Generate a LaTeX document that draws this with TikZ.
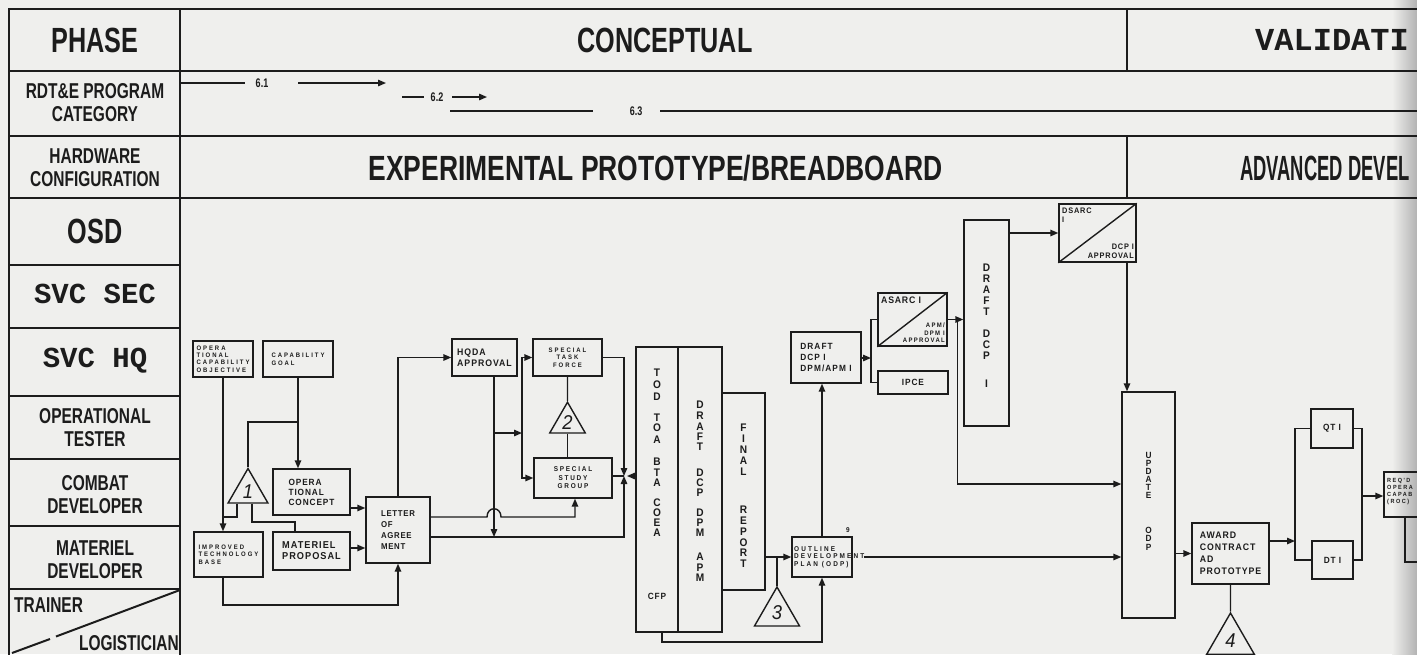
\documentclass[tikz,border=0pt]{standalone}
\usepackage{graphicx}
\usepackage{fontspec}
\usetikzlibrary{arrows.meta,shapes.geometric}
\newfontfamily\hdrfont{Liberation Sans}[FakeStretch=0.72]
\newfontfamily\monofont{Liberation Mono}
\newfontfamily\boxfont{Liberation Sans}[FakeStretch=0.92]
\newcommand\hdf[2]{\hdrfont\bfseries\fontsize{#1}{#2}\selectfont}
\newcommand\bxf[3]{\boxfont\bfseries\addfontfeatures{LetterSpace=#3}\fontsize{#1}{#2}\selectfont}
\definecolor{bg}{RGB}{239,239,237}
\definecolor{ink}{RGB}{28,28,28}
\begin{document}
\begin{tikzpicture}[x=1pt,y=-1pt,
  grid/.style={draw=ink,line width=2pt},
  wire/.style={draw=ink,line width=1.4pt},
  arr/.style={draw=ink,line width=1.4pt,-{Triangle[length=8pt,width=6.5pt]}},
  bx/.style={draw=ink,line width=1.4pt,inner sep=1pt,align=left,text=ink},
  tri/.style={draw=ink,line width=1.4pt,regular polygon,regular polygon sides=3,inner sep=0pt,text=ink,font=\boxfont\itshape\fontsize{20}{20}\selectfont},
  rowlab/.style={text=ink,align=center,inner sep=0pt,font=\hdf{21.5}{23}},
  big/.style={text=ink,inner sep=0pt,font=\hdf{35}{36}},
  mono/.style={text=ink,inner sep=0pt,font=\monofont\bfseries\fontsize{29}{30}\selectfont},
  stk/.style={text=ink,inner sep=0pt,font=\bxf{11}{11}{0}},
  stks/.style={text=ink,inner sep=0pt,font=\bxf{9}{9}{0}},
  tiny/.style={text=ink,inner sep=0pt,align=left},
  lbl/.style={text=ink,inner sep=0pt,font=\hdf{12.5}{12}}
]
\useasboundingbox (0,0) rectangle (1417,654);
\clip (0,0) rectangle (1417,654);
\fill[bg] (0,0) rectangle (1417,654);
\shade[left color=bg,right color=black!30] (1392,0) rectangle (1417,654);

% ---------- frame ----------
\draw[grid] (9,9) rectangle (180,664);
\foreach \yy in {9,71,136,198} \draw[grid] (9,\yy) -- (1425,\yy);
\foreach \yy in {265,328,396,459,526,589} \draw[grid] (9,\yy) -- (180,\yy);
\draw[grid] (1127,9) -- (1127,71);
\draw[grid] (1127,136) -- (1127,198);
\draw[grid] (12,653) -- (50,639);
\draw[grid] (56,636.5) -- (180,590);

% ---------- headers ----------
\node[big] (phase) at (95,40) {PHASE};
\node[big] (concept) at (665,40) {CONCEPTUAL};
\node[mono,anchor=west,font=\monofont\bfseries\fontsize{32}{32}\selectfont] (valid) at (1255,40) {VALIDATI};
\node[rowlab] (rdt) at (95,103) {RDT\&E PROGRAM\\CATEGORY};
\node[rowlab] (hw) at (95,168) {HARDWARE\\CONFIGURATION};
\node[big] (exp) at (655.5,168) {\scalebox{1.05}[1]{EXPERIMENTAL PROTOTYPE/BREADBOARD}};
\node[big,anchor=west] (adv) at (1240,168) {\scalebox{0.73}[1]{ADVANCED DEVEL}};
\node[big] (osd) at (95,231) {OSD};
\node[mono] (svcsec) at (95,294) {SVC SEC};
\node[mono] (svchq) at (95,361) {SVC HQ};
\node[rowlab] (optest) at (95,428) {OPERATIONAL\\TESTER};
\node[rowlab] (cdev) at (95,495) {COMBAT\\DEVELOPER};
\node[rowlab] (mdev) at (95,560) {MATERIEL\\DEVELOPER};
\node[rowlab,anchor=west] (trainer) at (14,605) {TRAINER};
\node[rowlab,anchor=east] (logis) at (179,643) {LOGISTICIAN};

% ---------- program category ----------
\node[lbl] (s61) at (262,83) {6.1};
\coordinate (s61a) at (180,83); \coordinate (s61b) at (245,83);
\coordinate (s61c) at (298,83); \coordinate (s61d) at (386,83);
\draw[wire] (s61a) -- (s61b);
\draw[arr] (s61c) -- (s61d);
\node[lbl] (s62) at (437,97) {6.2};
\coordinate (s62a) at (402,97); \coordinate (s62b) at (424,97);
\coordinate (s62c) at (452,97); \coordinate (s62d) at (487,97);
\draw[wire] (s62a) -- (s62b);
\draw[arr] (s62c) -- (s62d);
\node[lbl] (s63) at (636,111) {6.3};
\coordinate (s63a) at (450,111); \coordinate (s63b) at (593,111);
\coordinate (s63c) at (660,111); \coordinate (s63d) at (1425,111);
\draw[wire] (s63a) -- (s63b);
\draw[wire] (s63c) -- (s63d);

% ---------- boxes ----------
\node[bx,minimum width=60,minimum height=36,font=\bxf{6.5}{7.3}{30}] (oco) at (223,359) {OPERA\\TIONAL\\CAPABILITY\\OBJECTIVE};
\node[bx,minimum width=70,minimum height=36,font=\bxf{6.5}{8}{30}] (cg) at (298,359) {CAPABILITY\\GOAL};
\node[bx,minimum width=77,minimum height=46,font=\bxf{9}{10}{10}] (oc) at (311.5,492) {OPERA\\TIONAL\\CONCEPT};
\node[bx,minimum width=64,minimum height=66,font=\bxf{8.5}{11}{8}] (loa) at (398,530) {LETTER\\OF\\AGREE\\MENT};
\node[bx,minimum width=69,minimum height=45,font=\bxf{6.5}{7.5}{30}] (itb) at (228.5,554.5) {IMPROVED\\TECHNOLOGY\\BASE};
\node[bx,minimum width=77,minimum height=38,font=\bxf{10}{11}{10}] (mp) at (311.5,551) {MATERIEL\\PROPOSAL};
\node[bx,minimum width=65,minimum height=37,font=\bxf{9.5}{11}{10}] (hqda) at (484.5,357.5) {HQDA\\APPROVAL};
\node[bx,minimum width=69,minimum height=37,font=\bxf{6.5}{7.3}{30},align=center] (stf) at (567.5,357.5) {SPECIAL\\TASK\\FORCE};
\node[bx,minimum width=78,minimum height=40,font=\bxf{7}{8.5}{25},align=center] (ssg) at (573,478) {SPECIAL\\STUDY\\GROUP};
\node[bx,minimum width=42,minimum height=285] (tod) at (657,489.5) {};
\node[bx,minimum width=44,minimum height=285] (dft) at (700,489.5) {};
\node[bx,minimum width=43,minimum height=197] (fr) at (743.5,491.5) {};
\node[bx,minimum width=60,minimum height=40] (odp) at (822,557) {};
\node[tiny,font=\bxf{7}{7.5}{30},anchor=west] (odptxt) at (794,557) {OUTLINE\\DEVELOPMENT\\PLAN (ODP)};
\node[tiny,font=\bxf{7}{7}{0}] (nine) at (848,530) {9};
\node[bx,minimum width=70,minimum height=51,font=\bxf{9}{11}{12}] (ddcp) at (826,357.5) {DRAFT\\DCP I\\DPM/APM I};
\node[bx,minimum width=69,minimum height=53] (asarc) at (912.5,319.5) {};
\draw[wire] (asarc.south west) -- (asarc.north east);
\node[tiny,font=\bxf{9.5}{10}{8},anchor=north west] (asarct) at (881,297) {ASARC I};
\node[tiny,font=\bxf{6.5}{7.5}{20},anchor=south east,align=right] (asarcb) at (945,343) {APM/\\DPM I\\APPROVAL};
\node[bx,minimum width=70,minimum height=23,font=\bxf{9}{10}{10}] (ipce) at (913,382.5) {IPCE};
\node[bx,minimum width=45,minimum height=206] (tall) at (986.5,323) {};
\node[bx,minimum width=77,minimum height=58] (dsarc) at (1097.5,233) {};
\draw[wire] (dsarc.south west) -- (dsarc.north east);
\node[tiny,font=\bxf{8}{9}{10},anchor=north west] (dsarct) at (1062,208) {DSARC\\I};
\node[tiny,font=\bxf{8}{9}{10},anchor=south east,align=right] (dsarcb) at (1134,259) {DCP I\\APPROVAL};
\node[bx,minimum width=53,minimum height=226] (uodp) at (1148.5,505) {};
\node[bx,minimum width=77,minimum height=61,font=\bxf{9.5}{12}{10}] (award) at (1230.5,553.5) {AWARD\\CONTRACT\\AD\\PROTOTYPE};
\node[bx,minimum width=42,minimum height=39,font=\bxf{9}{10}{10}] (qt) at (1332,428.5) {QT I};
\node[bx,minimum width=41,minimum height=38,font=\bxf{9}{10}{10}] (dt) at (1332.5,560) {DT I};
\node[bx,minimum width=46,minimum height=45] (reqd) at (1407,494.5) {};
\node[tiny,font=\bxf{6}{7}{25},anchor=north west] (reqdtxt) at (1387,478) {REQ'D\\OPERA\\CAPAB\\(ROC)};

% vertical letter stacks
\foreach \c/\yy [count=\i] in {T/373,O/385,D/397,T/418,O/428,A/440,B/462,T/473,A/483,C/503,O/513,E/523,A/533}
  \node[stk] (todl\i) at (657,\yy) {\c};
\node[tiny,font=\bxf{9}{9}{10}] (cfp) at (657,596) {CFP};
\foreach \c/\yy [count=\i] in {D/405,R/416,A/427,F/437,T/447,D/473,C/483,P/493,D/513,P/523,M/533,A/557,P/568,M/578}
  \node[stk] (dftl\i) at (700,\yy) {\c};
\foreach \c/\yy [count=\i] in {F/428,I/439,N/450,A/461,L/472,R/510,E/521,P/532,O/543,R/553,T/564}
  \node[stk] (frl\i) at (743.5,\yy) {\c};
\foreach \c/\yy [count=\i] in {D/268,R/279,A/290,F/301,T/312,D/334,C/345,P/356,I/384}
  \node[stk] (talll\i) at (986.5,\yy) {\c};
\foreach \c/\yy [count=\i] in {U/455,P/463,D/471,A/479,T/487,E/495,O/530,D/538,P/547}
  \node[stks] (uodpl\i) at (1148.5,\yy) {\c};

% triangles
\node[tri,minimum size=46] (t1) at (248,491.5) {1};
\node[tri,minimum size=41] (t2) at (567.5,422.7) {2};
\node[tri,minimum size=52] (t3) at (777,613) {3};
\node[tri,minimum size=55] (t4) at (1230.5,640.5) {4};

% ---------- connectors ----------
\draw[arr] (oco.south) -- (oco.south |- itb.north);
\draw[arr] (cg.south) -- (cg.south |- oc.north);
\coordinate (j1) at (cg.south |- 0,422);
\draw[wire] (j1) -| (t1.north);
\coordinate (t1l) at ([xshift=-11pt]t1.south);
\coordinate (t1r) at ([xshift=4pt]t1.south);
\draw[wire] (t1l) |- (oco.south |- 0,517);
\coordinate (mpx) at (mp.north -| 295,0);
\draw[wire] (t1r) |- (mpx |- 0,522) -- (mpx);
\draw[arr] (oc.east |- 0,508) -- (loa.west |- 0,508);
\draw[arr] (mp.east |- 0,548) -- (loa.west |- 0,548);
\coordinate (itbx) at (itb.south -| oco.south);
\draw[arr] (itbx) -- (itbx |- 0,605) -| (loa.south);
\draw[arr] (loa.north) |- (hqda.west);
\coordinate (hqx) at ([xshift=9.5pt]hqda.south);
\coordinate (ssgx) at ([xshift=2pt]ssg.south);
\coordinate (hopa) at (487,517);
\coordinate (hopb) at (501,517);
\draw[arr] (loa.east |- hopa) -- (hopa) .. controls +(0,-11) and +(0,-11) .. (hopb) -- (ssgx |- hopb) -- (ssgx);
\coordinate (jn) at (624,476);
\draw[arr] (loa.east |- 0,537) -| (jn);
\draw[arr] (hqx) -- (hqx |- 0,537);
\coordinate (bus) at (522,433);
\draw[arr] (hqx |- bus) -- (bus);
\draw[arr] (bus) |- (stf.west);
\draw[arr] (bus) |- (ssg.west);
\draw[wire] (stf.south) -- (t2.north);
\draw[wire] (t2.south) -- (t2.south |- ssg.north);
\draw[arr] (stf.east) -| (jn);
\draw[wire] (ssg.east |- jn) -- (jn);
\draw[arr] (tod.west |- jn) -- ([xshift=3pt]jn);
\draw[arr] (fr.east |- odp.west) -- (odp.west);
\draw[wire] (t3.north) -- (t3.north |- odp.west);
\coordinate (todx) at ([xshift=5pt]tod.south);
\draw[arr] (todx) -- (todx |- 0,642) -| (odp.south);
\draw[arr] (odp.north) -- (odp.north |- ddcp.south);
\coordinate (ja) at (871,358);
\draw[arr] (ddcp.east |- ja) -- (ja);
\draw[wire] (ja) |- (asarc.west);
\draw[wire] (ja) |- (ipce.west);
\draw[arr] (asarc.east) -- (asarc.east -| tall.west);
\coordinate (jb) at ([xshift=10pt]asarc.east);
\draw[arr] (jb) |- (uodp.west |- 0,484);
\draw[arr] (tall.east |- dsarc.west) -- (dsarc.west);
\coordinate (dsx) at ([xshift=29.5pt]dsarc.south);
\draw[arr] (dsx) -- (dsx |- uodp.north);
\draw[arr] (odptxt.east |- odp.east) -- (odp.east -| uodp.west);
\draw[arr] (uodp.east |- award.west) -- (award.west);
\draw[wire] (award.south) -- (t4.north);
\coordinate (jc) at (1295,541);
\draw[arr] (award.east |- jc) -- (jc);
\draw[wire] (qt.west) -| (jc);
\draw[wire] (dt.west) -| (jc);
\coordinate (jd) at (1362,496);
\draw[wire] (qt.east) -| (jd);
\draw[wire] (dt.east) -| (jd);
\draw[arr] (jd) -- (jd -| reqd.west);
\coordinate (rq) at ([xshift=-2pt]reqd.south);
\coordinate (redge) at (1430,562);
\draw[wire] (rq) |- (redge);
\end{tikzpicture}
\end{document}
